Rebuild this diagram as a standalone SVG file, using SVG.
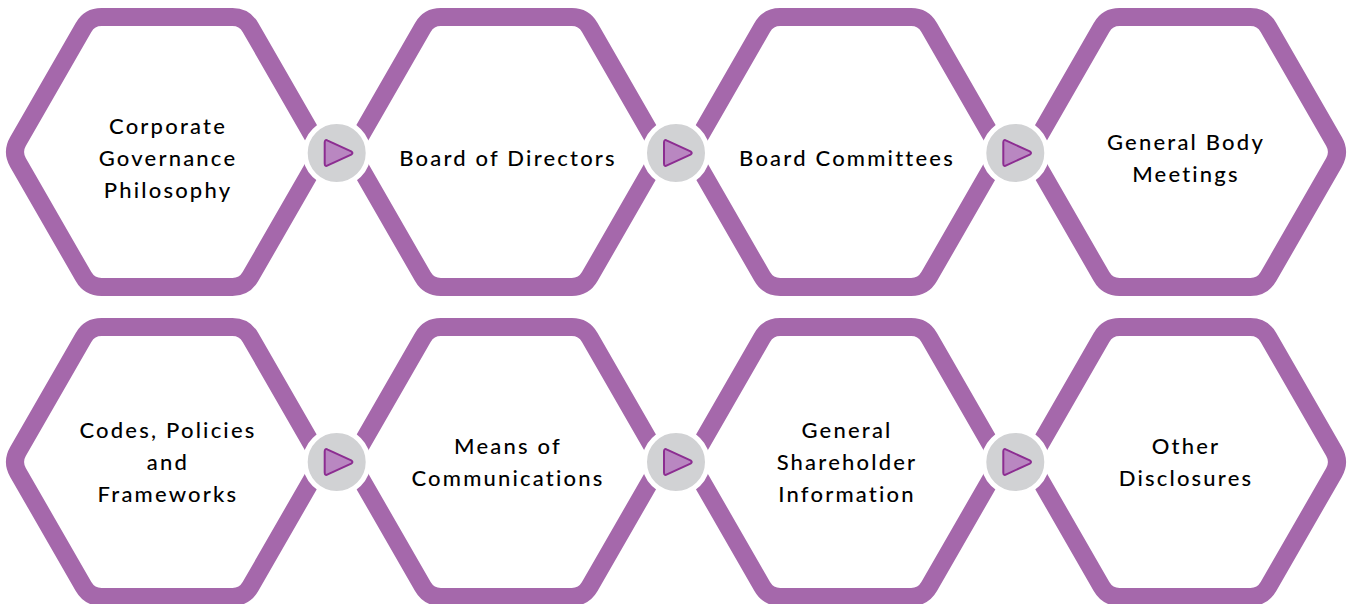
<svg xmlns="http://www.w3.org/2000/svg" xmlns:xlink="http://www.w3.org/1999/xlink" width="1351" height="604" viewBox="0 0 1351 604">
  <style>
    .hex { fill: #FFFFFF; stroke: #A568AB; stroke-width: 18; }
    .lbl { font-family: "Lato", "Liberation Sans", sans-serif; font-size: 22px; font-weight: 500; fill: #000000; text-anchor: middle; letter-spacing: 2.2px; }
    .dot { fill: #D1D2D4; stroke: #FFFFFF; stroke-width: 5; }
    .play { fill: #B987C1; stroke: #8C2D91; stroke-width: 2; stroke-linejoin: round; }
  </style>
  <defs>
    <path id="hexShape" d="M -149.03 -10.41 L -83.47 -124.59 Q -77.5 -135 -65.5 -135 L 65.5 -135 Q 77.5 -135 83.47 -124.59 L 149.03 -10.41 Q 155 0 149.03 10.41 L 83.47 124.59 Q 77.5 135 65.5 135 L -65.5 135 Q -77.5 135 -83.47 124.59 L -149.03 10.41 Q -155 0 -149.03 -10.41 Z"/>
    <g id="connector">
      <circle class="dot" r="31.5"/>
      <path class="play" d="M -12 -10.5 Q -12 -14 -9 -12.4 L 14.5 -1.6 Q 17 0 14.5 1.6 L -9 12.4 Q -12 14 -12 10.5 Z"/>
    </g>
  </defs>

  <g id="node-corporate-governance">
    <use xlink:href="#hexShape" class="hex" transform="translate(167,152)"/>
    <text class="lbl" x="168" y="134">Corporate</text>
    <text class="lbl" x="168" y="166">Governance</text>
    <text class="lbl" x="168" y="198">Philosophy</text>
  </g>
  <g id="node-board-of-directors">
    <use xlink:href="#hexShape" class="hex" transform="translate(506.3,152)"/>
    <text class="lbl" x="508" y="166">Board of Directors</text>
  </g>
  <g id="node-board-committees">
    <use xlink:href="#hexShape" class="hex" transform="translate(845.7,152)"/>
    <text class="lbl" x="847" y="166">Board Committees</text>
  </g>
  <g id="node-general-body-meetings">
    <use xlink:href="#hexShape" class="hex" transform="translate(1185,152)"/>
    <text class="lbl" x="1186" y="150">General Body</text>
    <text class="lbl" x="1186" y="182">Meetings</text>
  </g>

  <g id="node-codes-policies">
    <use xlink:href="#hexShape" class="hex" transform="translate(167,462)"/>
    <text class="lbl" x="168" y="438">Codes, Policies</text>
    <text class="lbl" x="168" y="470">and</text>
    <text class="lbl" x="168" y="502">Frameworks</text>
  </g>
  <g id="node-means-of-communications">
    <use xlink:href="#hexShape" class="hex" transform="translate(506.3,462)"/>
    <text class="lbl" x="508" y="454">Means of</text>
    <text class="lbl" x="508" y="486">Communications</text>
  </g>
  <g id="node-general-shareholder-information">
    <use xlink:href="#hexShape" class="hex" transform="translate(845.7,462)"/>
    <text class="lbl" x="847" y="438">General</text>
    <text class="lbl" x="847" y="470">Shareholder</text>
    <text class="lbl" x="847" y="502">Information</text>
  </g>
  <g id="node-other-disclosures">
    <use xlink:href="#hexShape" class="hex" transform="translate(1185,462)"/>
    <text class="lbl" x="1186" y="454">Other</text>
    <text class="lbl" x="1186" y="486">Disclosures</text>
  </g>

  <g id="connectors">
    <use xlink:href="#connector" transform="translate(336.7,153)"/>
    <use xlink:href="#connector" transform="translate(676,153)"/>
    <use xlink:href="#connector" transform="translate(1015.3,153)"/>
    <use xlink:href="#connector" transform="translate(336.7,462)"/>
    <use xlink:href="#connector" transform="translate(676,462)"/>
    <use xlink:href="#connector" transform="translate(1015.3,462)"/>
  </g>
</svg>
